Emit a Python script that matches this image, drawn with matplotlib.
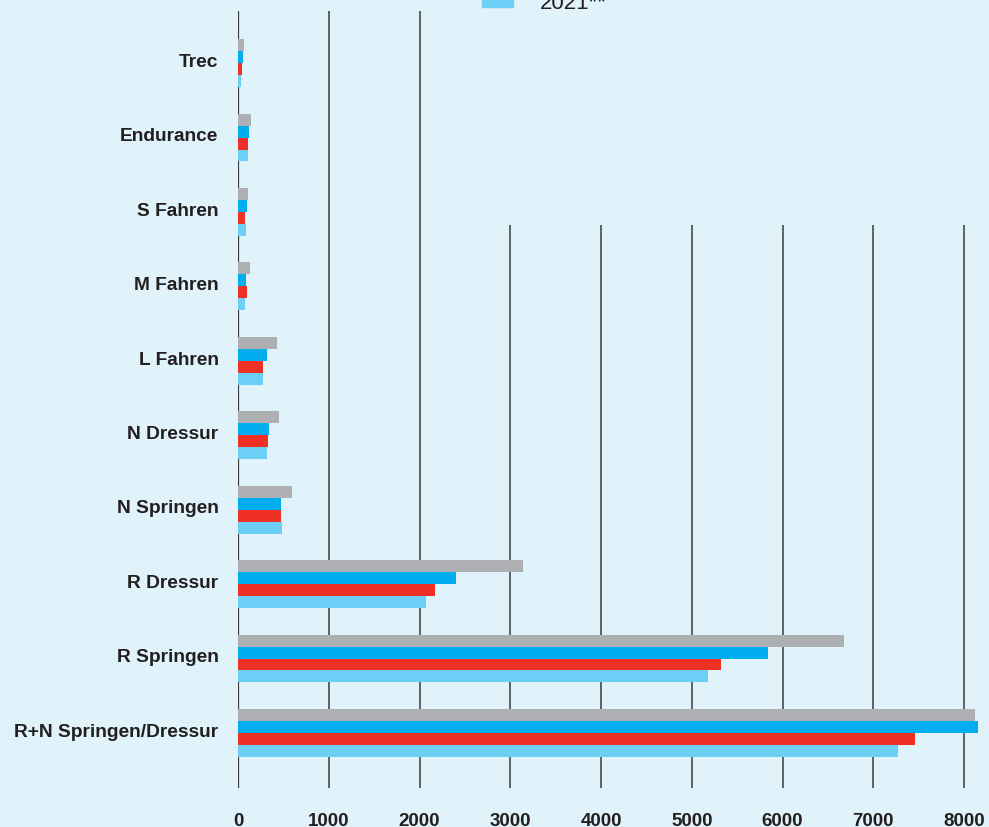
import numpy as np
import matplotlib
matplotlib.use("Agg")
import matplotlib.pyplot as plt

plt.rcParams['font.family'] = ['Liberation Sans', 'DejaVu Sans']

categories = ["Trec", "Endurance", "S Fahren", "M Fahren", "L Fahren",
              "N Dressur", "N Springen", "R Dressur", "R Springen",
              "R+N Springen/Dressur"]

# four series, drawn top to bottom inside each group
gray_vals = [66, 143, 110, 132, 430, 452, 595, 3138, 6676, 8120]
blue_vals = [55, 121, 99, 88, 320, 342, 474, 2402, 5838, 8152]
red_vals = [40, 110, 77, 99, 280, 331, 474, 2173, 5320, 7459]
light_vals = [35, 110, 88, 77, 280, 320, 485, 2072, 5176, 7273]

xticks = [0, 1000, 2000, 3000, 4000, 5000, 6000, 7000, 8000]
legend_label = "2021**"

bg = "#e0f3fa"
colors = ["#adafb2", "#00aeef", "#ef3024", "#6dcff6"]
text_col = "#231f20"

fig = plt.figure(figsize=(9.89, 8.28), dpi=100, facecolor=bg)
ax = fig.add_axes([238 / 989, 39 / 828, 1 - 238 / 989, 777 / 828])
ax.set_facecolor(bg)

y = np.arange(len(categories))
h = 0.161
series = [gray_vals, blue_vals, red_vals, light_vals]
for k, (vals, c) in enumerate(zip(series, colors)):
    ax.barh(y + (k - 1.5) * h, vals, height=h, color=c, zorder=3)

ax.set_xlim(0, 8275)
ax.set_ylim(len(categories) - 1 + 0.74, -0.70)

# gridlines: the right ones stop below the legend area
for xv in xticks:
    top = -0.70 if xv <= 2000 else 2.176
    lw = 1.6 if xv == 0 else 1.1
    ax.vlines(xv, len(categories) - 1 + 0.74, top, color="#3a3a3a",
              linewidth=lw, zorder=2)

for s in ax.spines.values():
    s.set_visible(False)

# labels sit a little above the group centre
ax.set_yticks(y - 0.05)
ax.set_yticklabels(categories, fontsize=13.8, fontweight='bold', color=text_col)
ax.set_xticks(xticks)
ax.set_xticklabels([str(v) for v in xticks], fontsize=13.5, fontweight='bold',
                   color=text_col)
ax.tick_params(axis='y', length=0, pad=14)
ax.tick_params(axis='x', length=0, pad=17)

# partially visible legend entry at the very top
fig.patches.append(plt.Rectangle((482 / 989, 1 - 8 / 828), 31 / 989, 10 / 828,
                                 transform=fig.transFigure, color=colors[3]))
fig.text(540 / 989, 1 - 9 / 828, legend_label, fontsize=16, color=text_col,
         va='baseline', ha='left')

fig.savefig("out.png", dpi=100, facecolor=bg)
